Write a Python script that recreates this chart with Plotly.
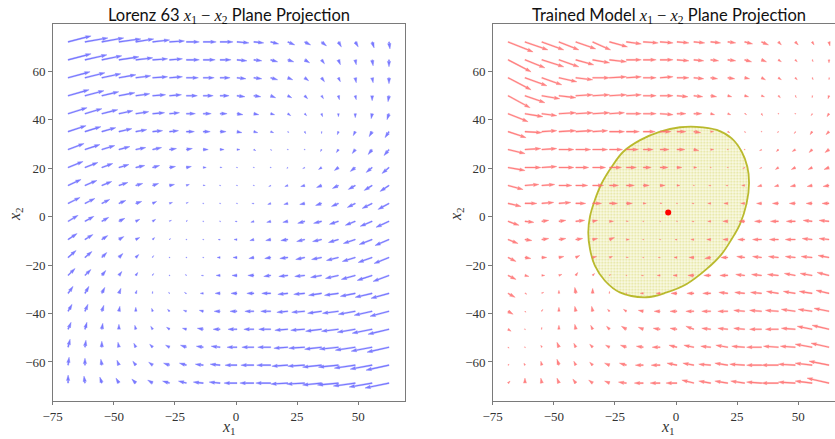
import math
import plotly.graph_objects as go

# ---------------- data ----------------
# grid of arrow tail positions
X_GRID = [-68.7, -61.8, -54.9, -47.9, -41.0, -34.1, -27.2, -20.3, -13.4, -6.5,
          0.4, 7.3, 14.2, 21.2, 28.1, 35.0, 41.9, 48.8, 55.7, 62.6]
# rows listed from top to bottom
Y_GRID = [72.0, 64.6, 57.2, 49.8, 42.4, 35.0, 27.6, 20.2, 12.8, 5.4,
          -2.0, -9.5, -16.9, -24.3, -31.7, -39.1, -46.5, -53.9, -61.3, -68.7]

# Lorenz 63 field (arrow components, screen-pixel units, up positive)
U_L = [
    [23, 23, 22, 22, 18, 17, 15, 13, 13, 13, 12, 10, 8, 7, 6, 5, 3, 3, 2, 1],
    [23, 22, 20, 20, 17, 15, 13, 13, 12, 11, 10, 8, 7, 6, 5, 3, 2, 1, 1, 0],
    [22, 20, 19, 17, 15, 15, 13, 12, 11, 10, 9, 8, 7, 5, 4, 3, 2, 1, 1, 0],
    [21, 19, 17, 16, 14, 13, 12, 11, 10, 9, 8, 7, 5, 4, 3, 2, 1, 1, 0, -1],
    [19, 17, 16, 14, 13, 12, 10, 9, 8, 7, 6, 5, 4, 3, 2, 1, 0, 0, -1, -2],
    [18, 16, 14, 13, 11, 10, 9, 8, 7, 6, 5, 4, 3, 1, 1, 0, -1, -2, -3, -4],
    [16, 15, 13, 11, 10, 9, 7, 6, 5, 4, 3, 2, 1, 0, 0, -1, -2, -3, -4, -5],
    [15, 13, 11, 10, 9, 7, 6, 5, 3, 2, 1, 0, 0, -1, -2, -3, -4, -5, -6, -7],
    [13, 12, 10, 9, 7, 6, 5, 3, 2, 1, 0, -1, -2, -3, -4, -5, -6, -7, -8, -9],
    [12, 10, 8, 7, 6, 4, 3, 2, 1, 0, -1, -2, -3, -4, -5, -6, -7, -8, -10, -11],
    [10, 9, 7, 6, 4, 3, 2, 1, 0, -1, -2, -3, -4, -5, -7, -8, -9, -10, -12, -13],
    [9, 8, 6, 5, 4, 2, 1, 0, -1, -2, -3, -4, -5, -7, -8, -9, -10, -12, -13, -14],
    [8, 7, 5, 4, 3, 1, 0, 0, -1, -3, -4, -5, -6, -8, -9, -10, -12, -13, -14, -15],
    [7, 6, 4, 3, 2, 1, 0, -1, -2, -4, -5, -6, -7, -9, -10, -11, -13, -14, -15, -16],
    [5, 4, 3, 2, 1, 0, -1, -2, -3, -5, -6, -7, -9, -10, -11, -13, -14, -15, -17, -18],
    [4, 3, 2, 1, 0, -1, -2, -3, -4, -6, -7, -9, -10, -11, -13, -14, -16, -17, -18, -19],
    [3, 2, 1, 0, -1, -2, -3, -4, -6, -7, -9, -10, -12, -13, -14, -16, -17, -18, -20, -21],
    [2, 1, 0, -1, -2, -3, -4, -6, -7, -9, -10, -12, -13, -14, -16, -17, -19, -20, -21, -22],
    [1, 0, -1, -2, -3, -4, -6, -7, -8, -10, -12, -13, -14, -16, -17, -19, -20, -21, -22, -23],
    [0, -1, -2, -3, -4, -5, -7, -8, -10, -11, -13, -14, -15, -17, -18, -19, -21, -22, -23, -24],
]
V_L = [
    [6, 4, 4, 3, 3, 2, 1, 0, 0, 0, -1, -1, -2, -3, -3, -4, -5, -5, -6, -7],
    [6, 5, 4, 3, 2, 1, 1, 0, 0, 0, -1, -1, -2, -2, -3, -4, -5, -5, -6, -7],
    [6, 5, 4, 3, 2, 1, 1, 0, 0, 0, -1, -1, -2, -2, -3, -4, -4, -5, -5, -6],
    [6, 5, 4, 3, 2, 1, 1, 0, 0, 0, -1, -1, -2, -2, -3, -3, -4, -4, -5, -6],
    [6, 5, 4, 3, 2, 1, 1, 0, 0, 0, -1, -1, -1, -2, -2, -3, -3, -4, -5, -6],
    [6, 5, 4, 3, 2, 1, 1, 0, 0, 0, -1, -1, -1, -1, -2, -2, -3, -4, -5, -6],
    [6, 5, 4, 3, 2, 2, 1, 1, 0, 0, 0, -1, -1, -1, -1, -2, -3, -4, -5, -6],
    [6, 5, 4, 3, 2, 2, 1, 1, 0, 0, 0, 0, -1, -1, -1, -2, -3, -4, -5, -6],
    [6, 5, 4, 3, 2, 2, 1, 1, 0, 0, 0, 0, -1, -1, -1, -2, -3, -4, -5, -6],
    [6, 5, 4, 3, 2, 2, 1, 1, 0, 0, 0, 0, -1, -1, -1, -2, -3, -4, -5, -6],
    [6, 5, 4, 3, 2, 2, 1, 1, 0, 0, 0, -1, -1, -1, -2, -2, -3, -4, -5, -6],
    [6, 5, 4, 3, 2, 2, 1, 1, 0, 0, 0, -1, -1, -1, -2, -2, -3, -4, -5, -6],
    [7, 6, 5, 4, 3, 2, 1, 1, 0, 0, 0, -1, -1, -1, -2, -2, -3, -4, -5, -6],
    [7, 6, 5, 4, 3, 2, 1, 1, 0, 0, 0, 0, -1, -1, -1, -2, -3, -4, -5, -6],
    [7, 7, 6, 5, 3, 2, 1, 1, 0, 0, 0, 0, 0, -1, -1, -2, -2, -3, -4, -5],
    [7, 7, 6, 5, 4, 3, 2, 1, 1, 0, 0, 0, 0, -1, -1, -2, -2, -3, -4, -5],
    [7, 7, 6, 5, 4, 3, 2, 1, 1, 0, 0, 0, 0, -1, -1, -2, -2, -3, -4, -5],
    [8, 7, 6, 5, 4, 3, 2, 2, 1, 1, 0, 0, 0, -1, -1, -2, -2, -3, -4, -5],
    [8, 7, 6, 5, 4, 3, 2, 2, 1, 1, 0, 0, 0, -1, -1, -2, -2, -3, -4, -5],
    [8, 7, 6, 5, 4, 3, 2, 2, 1, 1, 0, 0, 0, -1, -1, -2, -2, -3, -4, -5],
]

# Trained model field
U_R = [
    [25, 23, 22, 20, 20, 18, 18, 15, 15, 13, 12, 11, 10, 8, 8, 7, 3, 3, 2, 1],
    [23, 20, 22, 20, 18, 17, 17, 15, 13, 13, 12, 10, 8, 8, 7, 5, 3, 2, 1, 0],
    [23, 22, 20, 18, 17, 17, 17, 15, 13, 13, 12, 10, 7, 7, 5, 4, 3, 2, 1, 0],
    [22, 20, 18, 17, 17, 17, 17, 15, 13, 13, 11, 9, 6, 4, 4, 3, 2, 1, 0, -1],
    [20, 18, 15, 17, 17, 17, 15, 15, 13, 13, 9, 8, 4, 3, 2, 1, 0, 0, -1, -2],
    [18, 17, 15, 17, 17, 15, 15, 13, 12, 11, 9, 7, 3, 2, 1, 0, -1, -1, -2, -3],
    [17, 16, 15, 15, 15, 15, 13, 12, 10, 9, 8, 5, 3, 1, 0, -2, -2, -3, -3, -4],
    [17, 16, 15, 15, 13, 13, 12, 10, 8, 8, 5, 3, 1, -1, -2, -2, -3, -4, -4, -5],
    [15, 14, 13, 13, 12, 11, 9, 8, 6, 5, 3, 1, -2, -2, -3, -4, -4, -5, -5, -6],
    [13, 12, 12, 12, 10, 9, 8, 6, 3, 2, -1, -2, -3, -4, -4, -5, -6, -6, -6, -7],
    [11, 9, 7, 7, 9, 5, 4, 2, 1, 0, -1, -2, -3, -5, -6, -7, -8, -9, -9, -10],
    [10, 7, 7, 7, 7, 5, 5, 3, 1, -1, -2, -3, -4, -5, -7, -9, -9, -10, -10, -10],
    [8, 6, 5, 5, 4, 4, 3, 2, 0, -2, -3, -5, -6, -7, -8, -9, -10, -10, -11, -11],
    [8, 4, 3, 3, 2, 2, 1, 0, -2, -3, -4, -6, -7, -8, -9, -10, -11, -11, -12, -12],
    [7, 2, 2, 0, -1, 0, 0, -1, -3, -4, -6, -7, -8, -9, -10, -11, -12, -12, -13, -13],
    [5, 1, 1, 0, -1, -1, -2, -3, -5, -6, -7, -8, -9, -10, -11, -12, -13, -14, -14, -15],
    [3, 0, 0, 0, -1, -2, -3, -5, -5, -7, -7, -8, -9, -10, -11, -12, -13, -14, -15, -17],
    [1, 0, -1, -2, -2, -3, -4, -6, -7, -8, -8, -10, -10, -12, -13, -15, -15, -15, -17, -18],
    [1, -1, -1, -2, -2, -3, -5, -7, -8, -9, -10, -11, -12, -13, -15, -15, -17, -17, -17, -20],
    [2, 0, -1, -2, -3, -4, -5, -8, -9, -10, -11, -12, -12, -13, -14, -15, -17, -17, -17, -22],
]
V_R = [
    [-10, -8, -8, -8, -7, -8, -5, -2, -1, -1, -1, -1, -1, -1, -2, -3, -3, -3, -3, -4],
    [-12, -8, -7, -7, -5, -3, -2, 0, 0, 0, -1, -1, -1, -1, -2, -2, -2, -2, -2, -3],
    [-12, -8, -7, -4, -2, 0, 1, 1, 0, 1, 0, -1, -1, -1, -1, -2, -2, -2, -2, -2],
    [-12, -7, -3, -2, 1, 1, 1, 1, 0, 0, -1, -1, -1, -1, -1, -1, -2, -2, -2, -3],
    [-8, -3, -2, 1, 1, 1, 1, 0, 0, -1, 0, 0, -1, -1, -1, -2, -1, -1, -2, -3],
    [-6, -1, 1, 1, 1, 1, 0, 0, 0, 0, 0, -1, 0, -1, -1, -1, -1, -2, -3, -3],
    [-4, 1, 1, 0, 0, 0, 0, 0, 0, 0, 0, -1, 0, 0, 0, -1, -2, -2, -3, -3],
    [-3, 0, 1, 0, 0, 0, 0, 0, 0, 0, 0, 0, 0, 0, -1, -1, -2, -2, -2, -2],
    [-4, 1, 1, 0, 0, 0, 0, 0, 0, 0, 0, 0, 0, 0, 0, -1, -1, -1, -1, -1],
    [-3, 0, 1, 1, 0, 0, 0, 0, 0, 0, 0, 0, 0, 0, 0, 0, 0, 0, 0, 0],
    [-4, -1, 1, 1, 1, 1, 0, 0, 0, 0, 0, 0, 0, 0, 0, 0, 0, 0, 1, 1],
    [-4, -1, 1, 1, 1, 1, 2, 0, 0, 0, 0, 0, 0, 0, 0, 0, 0, 0, 1, 1],
    [-4, -1, 0, 1, 2, 1, 1, 0, 0, 0, 0, 0, -1, 0, 1, 1, 1, 1, 1, 2],
    [-4, -1, 0, 1, 3, 2, 1, 0, 0, 0, 0, 0, 0, 0, 1, 1, 1, 2, 2, 3],
    [-4, -1, 1, 3, 6, 5, 2, 0, 0, 0, 0, 0, 0, 1, 1, 1, 2, 2, 2, 3],
    [-3, -1, 2, 4, 5, 5, 2, 2, 1, 0, 0, 0, 0, 0, 1, 1, 1, 2, 2, 3],
    [-2, -1, 2, 4, 5, 4, 3, 3, 2, 1, 1, 3, 1, 1, 1, 0, 0, 1, 3, 4],
    [-1, 1, 2, 5, 4, 3, 2, 2, 1, 0, 2, 2, 1, 2, 1, 0, 1, 1, 3, 4],
    [1, 2, 4, 6, 4, 3, 2, 2, 0, 0, 2, 2, 1, 2, 1, 0, 0, 1, 2, 4],
    [2, 5, 5, 5, 4, 3, 2, 1, 0, 0, 0, 3, 2, 2, 2, 1, 0, 1, 2, 5],
]

# boundary of the trained-model trajectory cloud
CLOUD_X1 = [1.6, 8.5, 16.7, 22.8, 26.9, 29.2, 29.9, 28.9, 26.2, 22.8, 18.7, 12.6,
            4.4, -3.8, -12.0, -23.0, -29.1, -33.2, -35.2, -35.9, -35.2, -33.2,
            -30.4, -26.3, -21.6, -14.7, -6.5]
CLOUD_X2 = [36.8, 37.0, 35.7, 32.2, 26.7, 20.5, 13.7, 5.4, -3.1, -9.3, -15.5, -21.6,
            -27.8, -31.3, -33.3, -31.3, -26.5, -20.3, -13.4, -6.5, 0.0, 6.8,
            13.7, 20.5, 26.7, 31.5, 35.0]
FIXED_POINT = (-3.2, 1.7)

X_TICKS = [-75, -50, -25, 0, 25, 50]
Y_TICKS = [-60, -40, -20, 0, 20, 40, 60]
TITLE_L = "Lorenz 63"
TITLE_R = "Trained Model"

# ---------------- layout geometry ----------------
W, H = 835, 439
L_PX = (52.7, 405.0)
R_PX = (492.7, 835.0)
Y_PX = (24.3, 400.5)
XR_L = [-75.0, 69.15]
XR_R = [-75.0, 65.06]
YR = [-75.88, 79.26]

pxx_L = (L_PX[1] - L_PX[0]) / (XR_L[1] - XR_L[0])
pxx_R = (R_PX[1] - R_PX[0]) / (XR_R[1] - XR_R[0])
pxy = (Y_PX[1] - Y_PX[0]) / (YR[1] - YR[0])


def quiver(xs, ys, U, V, pxx, pxy, w=1.1):
    """matplotlib-like filled arrows (tail pivot), built in pixel space.
    Returns one (x, y) polygon list per grid column."""
    hw, hl, hal = 3 * w, 5 * w, 4.5 * w
    cols = []
    for j, x0 in enumerate(xs):
        PX, PY = [], []
        for i, y0 in enumerate(ys):
            u, v = U[i][j], V[i][j]
            L = math.hypot(u, v)
            if L < w:
                r = w / 2.0
                poly = [(r * math.cos(k * math.pi / 3), r * math.sin(k * math.pi / 3)) for k in range(6)]
            else:
                ux, uy = u / L, v / L
                if L >= hl:
                    s, Ld = 1.0, L
                else:
                    s, Ld = L / hl, hl
                shape = [(0, -w / 2), (Ld - hal, -w / 2), (Ld - hl, -hw / 2), (Ld, 0),
                         (Ld - hl, hw / 2), (Ld - hal, w / 2), (0, w / 2)]
                poly = []
                for t, n in shape:
                    t *= s
                    n *= s
                    poly.append((t * ux - n * uy, t * uy + n * ux))
            for sx, sy in poly + [poly[0]]:
                PX.append(x0 + sx / pxx)
                PY.append(y0 + sy / pxy)
            PX.append(None)
            PY.append(None)
        cols.append((PX, PY))
    return cols


fig = go.Figure()


def add_field(cols, color, xa, ya):
    for PX, PY in cols:
        fig.add_trace(go.Scatter(x=PX, y=PY, mode="lines", fill="toself",
                                 fillcolor=color, line=dict(width=0.4, color=color),
                                 hoverinfo="skip", showlegend=False, xaxis=xa, yaxis=ya))


# left: Lorenz 63 field
add_field(quiver(X_GRID, Y_GRID, U_L, V_L, pxx_L, pxy), "rgba(110,110,255,0.9)", "x", "y")

# right: trajectory cloud
cx = CLOUD_X1 + [CLOUD_X1[0]]
cy = CLOUD_X2 + [CLOUD_X2[0]]
fig.add_trace(go.Scatter(x=cx, y=cy, mode="lines", fill="toself",
                         line=dict(color="rgba(170,170,0,0.8)", width=1.8, shape="spline", smoothing=1.0),
                         fillpattern=dict(shape=".", fgcolor="rgba(185,185,10,0.75)",
                                          bgcolor="rgba(244,244,200,0.4)", size=3, solidity=0.4),
                         hoverinfo="skip", showlegend=False, xaxis="x2", yaxis="y2"))

add_field(quiver(X_GRID, Y_GRID, U_R, V_R, pxx_R, pxy), "rgba(255,110,110,0.85)", "x2", "y2")

fig.add_trace(go.Scatter(x=[FIXED_POINT[0]], y=[FIXED_POINT[1]], mode="markers",
                         marker=dict(color="#ff0000", size=6),
                         hoverinfo="skip", showlegend=False, xaxis="x2", yaxis="y2"))

axis_common = dict(showgrid=False, zeroline=False, showline=True, linecolor="#7a7a7a", linewidth=1,
                   ticks="outside", ticklen=3.5, tickwidth=1, tickcolor="#7a7a7a", automargin=False,
                   tickfont=dict(family="Liberation Serif", size=13, color="#333333"))

ydom = [(H - Y_PX[1]) / H, (H - Y_PX[0]) / H]
fig.update_layout(
    width=W, height=H, margin=dict(l=0, r=0, t=0, b=0, autoexpand=False),
    paper_bgcolor="white", plot_bgcolor="white",
    xaxis=dict(domain=[L_PX[0] / W, L_PX[1] / W], range=XR_L, tickvals=X_TICKS, mirror=True,
               anchor="y", **axis_common),
    yaxis=dict(domain=ydom, range=YR, tickvals=Y_TICKS, mirror=True, anchor="x", **axis_common),
    xaxis2=dict(domain=[R_PX[0] / W, R_PX[1] / W], range=XR_R, tickvals=X_TICKS, mirror=True,
                anchor="y2", **axis_common),
    yaxis2=dict(domain=ydom, range=YR, tickvals=Y_TICKS, mirror=False, anchor="x2", **axis_common),
)

MATH = ('<span style="font-family:\'Liberation Serif\'"><i>x</i><sub>1</sub> \u2212 '
        '<i>x</i><sub>2</sub></span>')
ann = []
for cx_px, name in [((L_PX[0] + L_PX[1]) / 2, TITLE_L), ((R_PX[0] + 845.0) / 2, TITLE_R)]:
    ann.append(dict(x=cx_px / W, y=(H - 15.5) / H, xref="paper", yref="paper",
                    text=f"{name} {MATH} Plane Projection", showarrow=False,
                    xanchor="center", yanchor="middle",
                    font=dict(family="Lato", size=16.5, color="#111111")))
for cx_px in [(L_PX[0] + L_PX[1]) / 2, 668.0]:
    ann.append(dict(x=cx_px / W, y=(H - 427.0) / H, xref="paper", yref="paper",
                    text="<i>x</i><sub>1</sub>", showarrow=False, xanchor="center", yanchor="middle",
                    font=dict(family="Liberation Serif", size=16, color="#333333")))
for cx_px in [16.0, 457.0]:
    ann.append(dict(x=cx_px / W, y=(H - 214.0) / H, xref="paper", yref="paper",
                    text="<i>x</i><sub>2</sub>", showarrow=False, xanchor="center", yanchor="middle",
                    textangle=-90, font=dict(family="Liberation Serif", size=16, color="#333333")))
fig.update_layout(annotations=ann)

fig.write_html("out.html", config={"displayModeBar": False},
               post_script="document.body.style.margin='0';document.body.style.overflow='hidden';")
